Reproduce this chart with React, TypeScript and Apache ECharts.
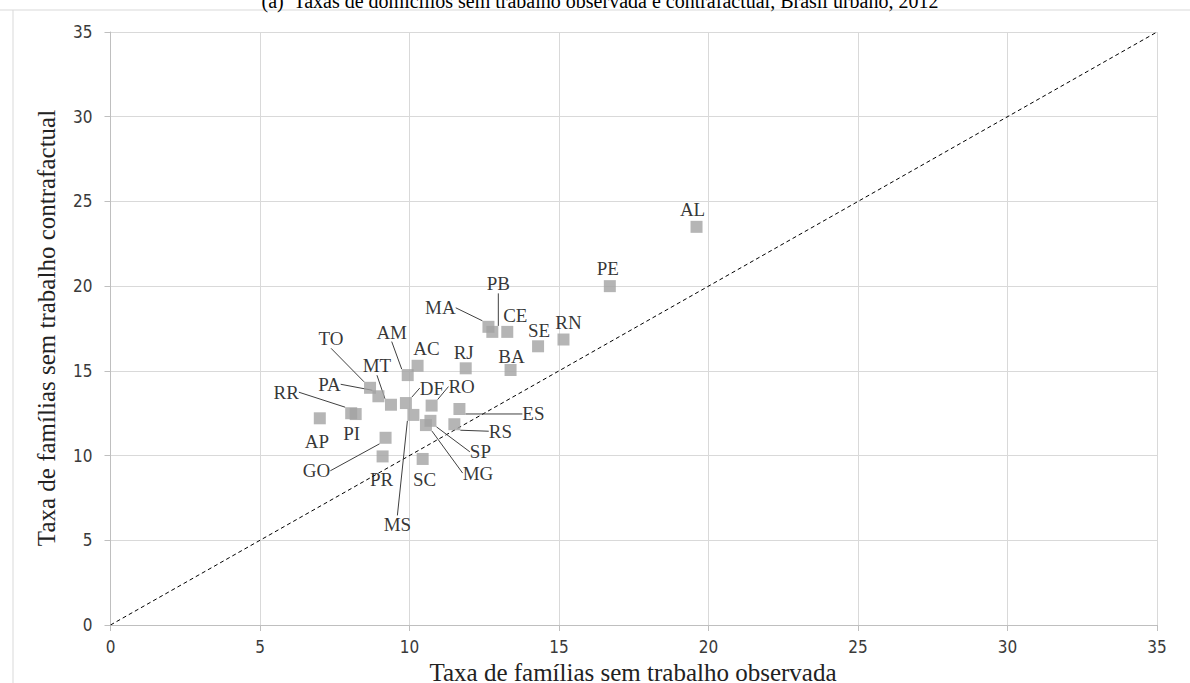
import React, { useEffect, useRef } from 'react';
import * as echarts from 'echarts';

// ---- data ----
const states = ['AL', 'PE', 'RN', 'SE', 'CE', 'PB', 'MA', 'BA', 'RJ', 'AC', 'AM', 'MT', 'TO', 'PA', 'RR', 'PI', 'AP', 'GO', 'PR', 'SC', 'MS', 'DF', 'RO', 'ES', 'RS', 'SP', 'MG'];
const observed = [19.6, 16.7, 15.15, 14.3, 13.27, 12.77, 12.64, 13.38, 11.88, 10.27, 9.94, 9.38, 8.68, 8.96, 8.05, 8.2, 7.0, 9.2, 9.1, 10.44, 10.13, 9.88, 10.74, 11.67, 11.5, 10.7, 10.55];
const counterfactual = [23.5, 20.0, 16.85, 16.45, 17.3, 17.3, 17.6, 15.05, 15.15, 15.3, 14.75, 13.0, 14.0, 13.5, 12.5, 12.45, 12.2, 11.05, 9.95, 9.8, 12.4, 13.1, 12.95, 12.75, 11.85, 12.05, 11.8];
const diagonalX = [0, 35];
const diagonalY = [0, 35];

const chartTitle = '(a)  Taxas de domicílios sem trabalho observada e contrafactual, Brasil urbano, 2012';
const xTitle = 'Taxa de famílias sem trabalho observada';
const yTitle = 'Taxa de famílias sem trabalho contrafactual';

// ---- label placement (layout, px) ----
const labelOffsets: Record<string, [number, number]> = {
  AL: [-4, -17], PE: [-2, -18], RN: [5, -17], SE: [1, -16], CE: [8, -16], PB: [6, -48], MA: [-48, -19],
  BA: [1, -14], RJ: [-2, -16], AC: [9, -17], AM: [-16, -43], MT: [-14, -39], TO: [-39, -49], PA: [-49, -12],
  RR: [-65, -21], PI: [-4, 19], AP: [-3, 23], GO: [-69, 33], PR: [-1, 23], SC: [2, 21], MS: [-16, 110],
  DF: [26, -15], RO: [30, -19], ES: [74, 5], RS: [46, 7], SP: [50, 31], MG: [52, 48],
};
const leaderLines = new Set(['PB', 'MA', 'AM', 'MT', 'TO', 'PA', 'RR', 'GO', 'MS', 'DF', 'RO', 'ES', 'RS', 'SP', 'MG']);

const SERIF = '"Liberation Serif", "Times New Roman", serif';
const TICKFONT = '"DejaVu Sans Condensed", "Liberation Sans Narrow", "DejaVu Sans", sans-serif';

export default function App() {
  const ref = useRef<HTMLDivElement>(null);

  useEffect(() => {
    if (!ref.current) return;
    const chart = echarts.init(ref.current, undefined, { renderer: 'svg' });

    const items = states.map((s, i) => ({
      name: s,
      value: [observed[i], counterfactual[i]],
      labelLine: { show: leaderLines.has(s) },
    }));
    const diagonal = diagonalX.map((x, i) => [x, diagonalY[i]]);

    const axisCommon = {
      type: 'value' as const,
      min: 0,
      max: 35,
      interval: 5,
      axisLine: { show: true, lineStyle: { color: '#bfbfbf', width: 1 } },
      axisTick: { show: true, length: 6, lineStyle: { color: '#bfbfbf' } },
      splitLine: { show: true, lineStyle: { color: '#d9d9d9', width: 1 } },
    };

    chart.setOption({
      animation: false,
      backgroundColor: '#ffffff',
      grid: { left: 110.5, right: 33, top: 32, bottom: 58 },
      xAxis: {
        ...axisCommon,
        axisLabel: { fontFamily: TICKFONT, fontSize: 17, color: '#3a3a3a', margin: 13 },
      },
      yAxis: {
        ...axisCommon,
        axisLabel: { fontFamily: TICKFONT, fontSize: 17, color: '#3a3a3a', margin: 18 },
      },
      series: [
        {
          type: 'line',
          data: diagonal,
          symbol: 'none',
          silent: true,
          lineStyle: { color: '#000', width: 1, type: [4, 3] },
          z: 1,
        },
        {
          type: 'scatter',
          data: items,
          symbol: 'rect',
          symbolSize: 12,
          itemStyle: { color: '#a3a3a3' },
          label: {
            show: true,
            position: 'inside',
            formatter: '{b}',
            fontFamily: SERIF,
            fontSize: 19,
            color: '#000',
          },
          labelLine: { show: true, lineStyle: { color: '#404040', width: 1 } },
          labelLayout: (p: any) => {
            const o = labelOffsets[states[p.dataIndex]] || [0, 0];
            return { dx: o[0], dy: o[1], hideOverlap: false };
          },
          z: 2,
        },
      ],
      graphic: [
        { type: 'line', shape: { x1: 0, y1: 10, x2: 1190, y2: 10 }, style: { stroke: '#d9d9d9', lineWidth: 1 }, z: 0 },
        { type: 'line', shape: { x1: 13, y1: 10, x2: 13, y2: 683 }, style: { stroke: '#d9d9d9', lineWidth: 1 }, z: 0 },
        {
          type: 'text', x: 600, y: 1,
          style: { text: chartTitle, font: `20px ${SERIF}`, fill: '#000', align: 'center', verticalAlign: 'middle' },
        },
        {
          type: 'text', x: 633, y: 672,
          style: { text: xTitle, font: `25px ${SERIF}`, fill: '#222', align: 'center', verticalAlign: 'middle' },
        },
        {
          type: 'text', x: 46, y: 328, rotation: Math.PI / 2,
          style: { text: yTitle, font: `25px ${SERIF}`, fill: '#222', align: 'center', verticalAlign: 'middle' },
        },
      ],
    });

    return () => chart.dispose();
  }, []);

  return <div ref={ref} style={{ position: 'absolute', left: 0, top: 0, width: 1190, height: 683 }} />;
}
